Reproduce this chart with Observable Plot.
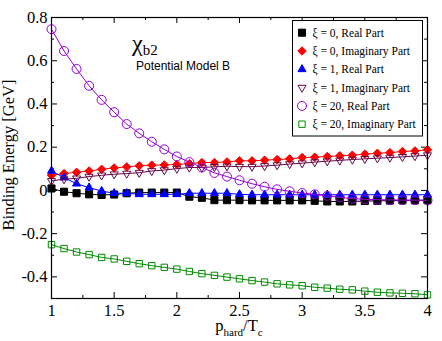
<!DOCTYPE html>
<html><head><meta charset="utf-8">
<script src="https://cdn.jsdelivr.net/npm/d3@7"></script>
<script src="https://cdn.jsdelivr.net/npm/@observablehq/plot@0.6"></script>
<style>
body{margin:0;background:#fff;}
#chart{position:relative;width:442px;height:341px;}
</style></head><body><div id="chart"></div>
<script>
const pHard = [1.0,1.1,1.2,1.3,1.4,1.5,1.6,1.7,1.8,1.9,2.0,2.1,2.2,2.3,2.4,2.5,2.6,2.7,2.8,2.9,3.0,3.1,3.2,3.3,3.4,3.5,3.6,3.7,3.8,3.9,4.0];
const xi0Real = [0.009,-0.006,-0.013,-0.018,-0.021,-0.019,-0.013,-0.010,-0.010,-0.010,-0.010,-0.029,-0.034,-0.045,-0.045,-0.045,-0.046,-0.046,-0.046,-0.046,-0.046,-0.048,-0.051,-0.051,-0.051,-0.049,-0.048,-0.047,-0.046,-0.046,-0.045];
const xi0Imag = [0.070,0.078,0.084,0.090,0.098,0.104,0.109,0.114,0.117,0.118,0.120,0.124,0.129,0.129,0.132,0.137,0.137,0.140,0.143,0.146,0.152,0.154,0.157,0.160,0.163,0.168,0.172,0.175,0.180,0.183,0.188];
const xi1Real = [0.090,0.059,0.031,0.013,-0.003,-0.013,-0.013,-0.018,-0.018,-0.018,-0.018,-0.013,-0.013,-0.013,-0.013,-0.018,-0.020,-0.020,-0.020,-0.020,-0.020,-0.020,-0.020,-0.020,-0.020,-0.020,-0.020,-0.020,-0.020,-0.020,-0.020];
const xi1Imag = [0.044,0.052,0.056,0.064,0.070,0.075,0.078,0.082,0.090,0.094,0.101,0.106,0.106,0.109,0.112,0.110,0.110,0.113,0.117,0.122,0.126,0.131,0.135,0.139,0.143,0.146,0.149,0.152,0.155,0.159,0.163];
const xi20Real = [0.746,0.645,0.562,0.484,0.419,0.362,0.307,0.264,0.225,0.190,0.157,0.131,0.106,0.081,0.064,0.047,0.031,0.017,0.005,-0.004,-0.012,-0.018,-0.025,-0.032,-0.038,-0.041,-0.043,-0.044,-0.045,-0.045,-0.046];
const xi20Imag = [-0.251,-0.269,-0.285,-0.297,-0.310,-0.317,-0.328,-0.339,-0.348,-0.356,-0.364,-0.375,-0.385,-0.393,-0.401,-0.409,-0.417,-0.424,-0.432,-0.437,-0.441,-0.448,-0.452,-0.457,-0.460,-0.466,-0.471,-0.474,-0.476,-0.478,-0.483];

const seriesLabels = ["ξ = 0, Real Part","ξ = 0, Imaginary Part","ξ = 1, Real Part","ξ = 1, Imaginary Part","ξ = 20, Real Part","ξ = 20, Imaginary Part"];
const xTicks = [1,1.5,2,2.5,3,3.5,4];
const xMinor = [1.25,1.75,2.25,2.75,3.25,3.75];
const yTicks = [-0.4,-0.2,0,0.2,0.4,0.6,0.8];
const yMinor = [-0.3,-0.1,0.1,0.3,0.5,0.7];
const yLabel = "Binding Energy [GeV]";
const titleMain = "χ", titleSub = "b2", subtitle = "Potential Model B";

const styles = [
  {values: xi0Real, color: "#000000", symbol: "square", filled: true, r: 4, rotate: 0},
  {values: xi0Imag, color: "#ff0000", symbol: "diamond2", filled: true, r: 3.8, rotate: 0},
  {values: xi1Real, color: "#0000ff", symbol: "triangle", filled: true, r: 3, rotate: 0},
  {values: xi1Imag, color: "#670748", symbol: "triangle", filled: false, r: 3, rotate: 180},
  {values: xi20Real, color: "#9400d3", symbol: "circle", filled: false, r: 4.5, rotate: 0},
  {values: xi20Imag, color: "#008b00", symbol: "square", filled: false, r: 3.6, rotate: 0}
];

const W = 442, H = 341, mL = 51, mR = 15, mT = 17, mB = 43;
const innerW = W - mL - mR, innerH = H - mT - mB;
const serif = "'Liberation Serif','Times New Roman',serif";
const fmt = d => String(d);

const seriesMarks = styles.flatMap((s, i) => {
  const rows = pHard.map((x, j) => ({x, y: s.values[j]}));
  return [
    Plot.line(rows, {x: "x", y: "y", stroke: s.color, strokeWidth: 1}),
    Plot.dot(rows, {x: "x", y: "y", symbol: s.symbol, r: s.r, rotate: s.rotate,
      fill: s.filled ? s.color : "none", stroke: s.color, strokeWidth: 1})
  ];
});

const chart = Plot.plot({
  width: W, height: H, marginLeft: mL, marginRight: mR, marginTop: mT, marginBottom: mB,
  style: {fontFamily: serif, fontSize: "16.5px", background: "white", color: "black"},
  x: {domain: [1, 4]},
  y: {domain: [-0.5, 0.8]},
  marks: [
    Plot.axisX(xTicks, {tickSize: 0, tickPadding: 5.5, tickFormat: fmt, label: null, fontSize: 16.5}),
    Plot.axisY(yTicks, {tickSize: 0, tickPadding: 4, tickFormat: fmt, label: null, fontSize: 16.5}),
    Plot.tickX(xTicks, {x: d => d, insetTop: innerH - 6, stroke: "black"}),
    Plot.tickX(xTicks, {x: d => d, insetBottom: innerH - 6, stroke: "black"}),
    Plot.tickX(xMinor, {x: d => d, insetTop: innerH - 3, stroke: "black"}),
    Plot.tickX(xMinor, {x: d => d, insetBottom: innerH - 3, stroke: "black"}),
    Plot.tickY(yTicks, {y: d => d, insetRight: innerW - 6, stroke: "black"}),
    Plot.tickY(yTicks, {y: d => d, insetLeft: innerW - 6, stroke: "black"}),
    Plot.tickY(yMinor, {y: d => d, insetRight: innerW - 3, stroke: "black"}),
    Plot.tickY(yMinor, {y: d => d, insetLeft: innerW - 3, stroke: "black"}),
    ...seriesMarks,
    Plot.frame({stroke: "black", strokeWidth: 1.2})
  ]
});
document.getElementById("chart").appendChild(chart);

const svg = d3.select(chart);
// Y label
svg.append("text").attr("transform", "translate(14,155) rotate(-90)")
  .attr("text-anchor", "middle").attr("font-family", serif).attr("font-size", 16.5)
  .attr("fill", "black").text(yLabel);
// X label with subscripts
const xl = svg.append("text").attr("x", 239).attr("y", 331).attr("text-anchor", "middle")
  .attr("font-family", serif).attr("font-size", 16.5).attr("fill", "black");
xl.append("tspan").text("p");
xl.append("tspan").attr("font-size", 11).attr("dy", 5).text("hard");
xl.append("tspan").attr("dy", -5).text("/T");
xl.append("tspan").attr("font-size", 11).attr("dy", 5).text("c");
// Title
const tt = svg.append("text").attr("x", 132).attr("y", 51).attr("text-anchor", "start")
  .attr("font-family", serif).attr("font-size", 24).attr("fill", "black");
tt.append("tspan").text(titleMain);
tt.append("tspan").attr("font-size", 15).attr("dy", 4).text(titleSub);
svg.append("text").attr("x", 136).attr("y", 70).attr("text-anchor", "start")
  .attr("font-family", "'Liberation Sans',Arial,sans-serif")
  .attr("font-size", 12).attr("fill", "black").text(subtitle);
// Legend
const symMap = {square: d3.symbolSquare, diamond2: d3.symbolDiamond2, triangle: d3.symbolTriangle, circle: d3.symbolCircle};
const lg = svg.append("g");
lg.append("rect").attr("x", 292.5).attr("y", 20.5).attr("width", 130).attr("height", 115.5)
  .attr("fill", "white").attr("stroke", "black").attr("stroke-width", 1);
styles.forEach((s, i) => {
  const cy = 32.7 + i * 18.3;
  lg.append("path").attr("d", d3.symbol(symMap[s.symbol], Math.PI * s.r * s.r)())
    .attr("transform", `translate(302,${cy}) rotate(${s.rotate})`)
    .attr("fill", s.filled ? s.color : "none").attr("stroke", s.color).attr("stroke-width", 1);
  lg.append("text").attr("x", 312.5).attr("y", cy).attr("dy", "0.35em").attr("text-anchor", "start")
    .attr("font-family", serif).attr("font-size", 11.5).attr("fill", "black").text(seriesLabels[i]);
});
</script></body></html>
